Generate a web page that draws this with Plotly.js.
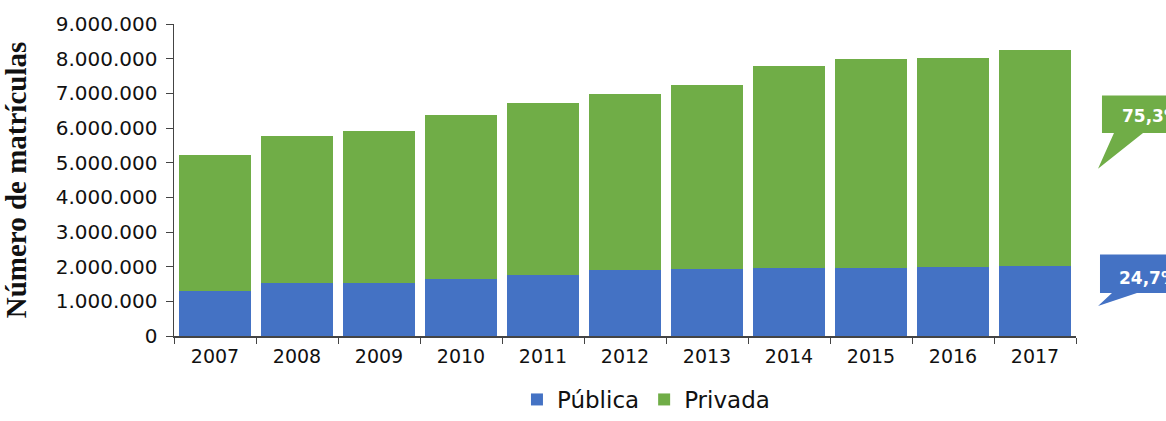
<!DOCTYPE html>
<html>
<head>
<meta charset="utf-8">
<script src="https://cdn.plot.ly/plotly-3.0.1.min.js"></script>
<style>html,body{margin:0;padding:0;background:#fff;}#chart{width:1166px;height:421px;}</style>
</head>
<body>
<div id="chart"></div>
<script>
var years = ['2007','2008','2009','2010','2011','2012','2013','2014','2015','2016','2017'];
var publica = [1300000,1540000,1520000,1630000,1770000,1890000,1930000,1950000,1950000,1980000,2030000];
var privada = [3930000,4240000,4400000,4740000,4950000,5100000,5320000,5840000,6040000,6030000,6210000];
var seriesNames = ['Pública','Privada'];
var seriesColors = ['#4472C4','#70AD47'];
var shareLabels = ['24,7%','75,3%'];
var yTicks = [0,1000000,2000000,3000000,4000000,5000000,6000000,7000000,8000000,9000000];

var traces = [
  {type:'bar', x:years, y:publica, name:seriesNames[0], marker:{color:seriesColors[0]}},
  {type:'bar', x:years, y:privada, name:seriesNames[1], marker:{color:seriesColors[1]}}
];

var layout = {
  width:1166, height:421,
  margin:{l:174, r:90, t:14, b:85},
  barmode:'stack', bargap:0.12,
  separators:',.',
  paper_bgcolor:'#fff', plot_bgcolor:'#fff',
  showlegend:true,
  legend:{orientation:'h', xref:'container', yref:'container', x:0.554, xanchor:'center', y:-0.02, yanchor:'bottom',
          traceorder:'normal', font:{family:'DejaVu Sans', size:23, color:'#111'}, itemwidth:30},
  xaxis:{type:'category', tickson:'boundaries', ticks:'outside', ticklen:6, tickcolor:'#444',
         showline:true, linecolor:'#444', linewidth:1.5, ticklabelstandoff:3,
         tickfont:{family:'DejaVu Sans', size:19, color:'#111'}, showgrid:false, zeroline:false},
  yaxis:{range:[0,9000000], tickvals:yTicks, tickformat:',d', ticks:'outside', ticklen:7, tickcolor:'#444',
         showline:true, linecolor:'#444', linewidth:1.5, ticklabelstandoff:4, automargin:true,
         tickfont:{family:'DejaVu Sans', size:20, color:'#111'}, showgrid:false, zeroline:false,
         title:{text:'Número de matrículas', standoff:22, font:{family:'Liberation Serif', size:29, color:'#111', weight:'bold'}}},
  shapes:[
    {type:'path', xref:'paper', yref:'paper', line:{width:0}, fillcolor:seriesColors[1],
     path:'M1.0288,0.7706 L1.1042,0.7706 L1.1042,0.6503 L1.0743,0.6503 L1.0244,0.5364 L1.0421,0.6503 L1.0288,0.6503 Z'},
    {type:'path', xref:'paper', yref:'paper', line:{width:0}, fillcolor:seriesColors[0],
     path:'M1.0266,0.2611 L1.1042,0.2611 L1.1042,0.1377 L1.0676,0.1377 L1.0244,0.0965 L1.0399,0.1377 L1.0266,0.1377 Z'}
  ],
  annotations:[
    {xref:'paper', yref:'paper', x:1.0488, y:0.7041, xanchor:'left', yanchor:'middle', showarrow:false,
     text:'<b>'+shareLabels[1]+'</b>', font:{family:'DejaVu Sans', size:17, color:'#fff'}},
    {xref:'paper', yref:'paper', x:1.0455, y:0.1851, xanchor:'left', yanchor:'middle', showarrow:false,
     text:'<b>'+shareLabels[0]+'</b>', font:{family:'DejaVu Sans', size:17, color:'#fff'}}
  ]
};

Plotly.newPlot('chart', traces, layout, {displayModeBar:false, staticPlot:true});
</script>
</body>
</html>
